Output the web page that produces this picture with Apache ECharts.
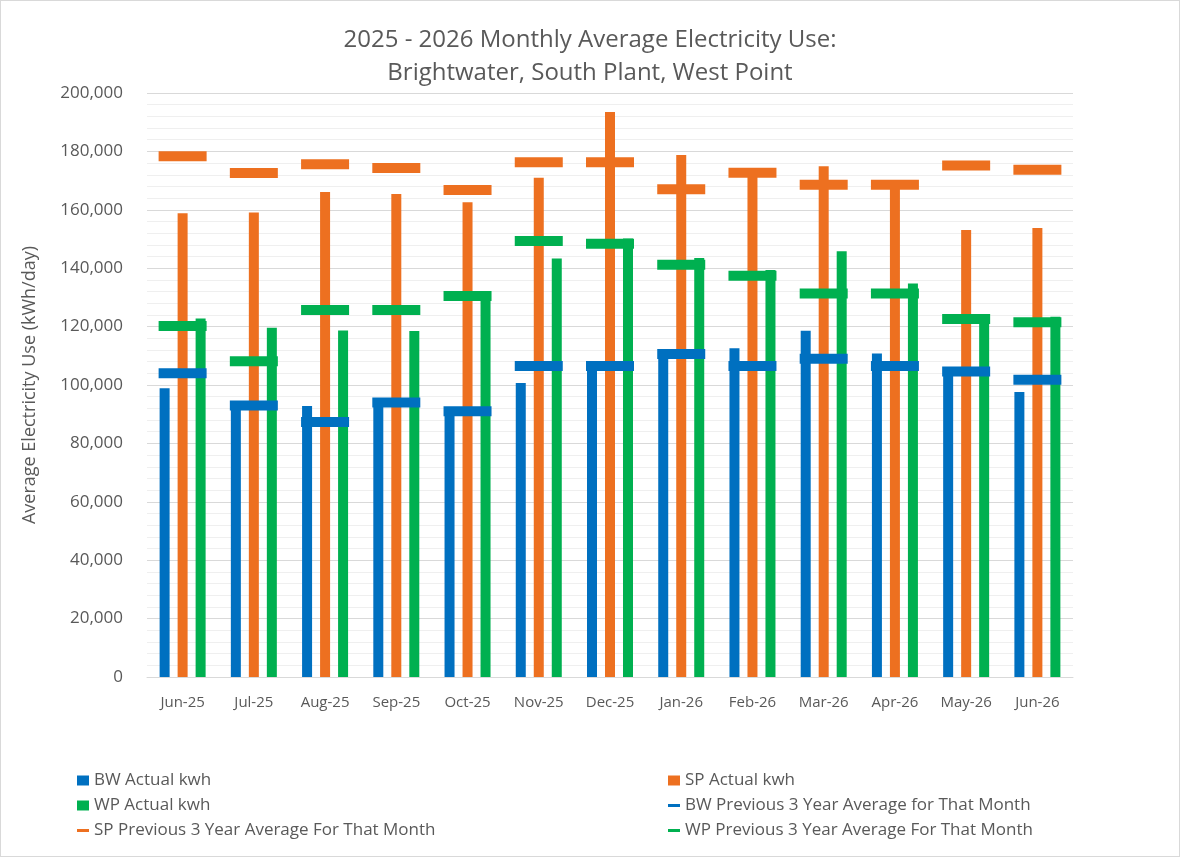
<!DOCTYPE html>
<html>
<head>
<meta charset="utf-8">
<script src="https://cdn.jsdelivr.net/npm/echarts@6/dist/echarts.min.js"></script>
<style>html,body{margin:0;background:#fff}#main{width:1178px;height:855px;border:1px solid #d9d9d9}</style>
</head>
<body>
<div id="main"></div>
<script>
var months = ['Jun-25','Jul-25','Aug-25','Sep-25','Oct-25','Nov-25','Dec-25','Jan-26','Feb-26','Mar-26','Apr-26','May-26','Jun-26'];
var bwActual = [98900,92500,92800,94500,91000,100700,107000,111000,112600,118600,110800,105000,97600];
var spActual = [158800,159100,166100,165400,162600,171000,193500,178800,173000,174900,168500,153100,153800];
var wpActual = [122800,119600,118700,118500,130500,143300,150200,143500,139400,145800,134800,122600,123400];
var bwAvg = [104000,93000,87300,94000,91000,106500,106500,110600,106500,109000,106500,104600,101800];
var spAvg = [178300,172600,175600,174300,166800,176300,176300,167000,172700,168600,168600,175200,173700];
var wpAvg = [120200,108100,125700,125700,130500,149300,148400,141200,137400,131300,131300,122600,121500];

var BLUE = '#0070C0', ORANGE = '#ED7020', GREEN = '#00B050';
var txt = '#595959';
var font = '"Open Sans", sans-serif';

var chart = echarts.init(document.getElementById('main'));
var dash = 'path://M0,4H12V7H0Z';

function avgSeries(name, data, color) {
  return {
    name: name, type: 'scatter', data: data,
    symbol: 'rect', symbolSize: [48, 10],
    itemStyle: { color: color, opacity: 1 }, z: 5
  };
}
function barSeries(name, data, color) {
  return {
    name: name, type: 'bar', data: data, barWidth: 10, barGap: '80%',
    itemStyle: { color: color }
  };
}

chart.setOption({
  animation: false,
  textStyle: { fontFamily: font },
  title: {
    text: '2025 - 2026 Monthly Average Electricity Use:\nBrightwater, South Plant, West Point',
    left: 'center', top: 18,
    textStyle: { fontSize: 24, fontWeight: 'normal', color: txt, lineHeight: 33, fontFamily: font }
  },
  legend: [{
    orient: 'vertical', left: 71, top: 766, itemGap: 8, itemWidth: 12, itemHeight: 10,
    textStyle: { fontSize: 17, color: txt },
    data: [{ name: 'BW Actual kwh', icon: 'rect' }, { name: 'WP Actual kwh', icon: 'rect' },
           { name: 'SP Previous 3 Year Average For That Month', icon: dash }]
  }, {
    orient: 'vertical', left: 662, top: 766, itemGap: 8, itemWidth: 12, itemHeight: 10,
    textStyle: { fontSize: 17, color: txt },
    data: [{ name: 'SP Actual kwh', icon: 'rect' },
           { name: 'BW Previous 3 Year Average for That Month', icon: dash },
           { name: 'WP Previous 3 Year Average For That Month', icon: dash }]
  }],
  grid: { left: 146, right: 106, top: 92, bottom: 179 },
  xAxis: {
    type: 'category', data: months,
    axisLine: { lineStyle: { color: '#d9d9d9' } },
    axisTick: { show: false },
    axisLabel: { fontSize: 15, color: txt, margin: 18 }
  },
  yAxis: {
    type: 'value', min: 0, max: 200000, interval: 20000,
    name: 'Average Electricity Use (kWh/day)', nameLocation: 'middle', nameGap: 108,
    nameTextStyle: { fontSize: 18, color: txt },
    axisLabel: { fontSize: 17, color: txt, margin: 24,
      formatter: function (v) { return v.toLocaleString('en-US'); } },
    splitLine: { lineStyle: { color: '#d9d9d9' } },
    minorTick: { show: false, splitNumber: 5 },
    minorSplitLine: { show: true, lineStyle: { color: '#efefef' } }
  },
  series: [
    barSeries('BW Actual kwh', bwActual, BLUE),
    barSeries('SP Actual kwh', spActual, ORANGE),
    barSeries('WP Actual kwh', wpActual, GREEN),
    avgSeries('BW Previous 3 Year Average for That Month', bwAvg, BLUE),
    avgSeries('SP Previous 3 Year Average For That Month', spAvg, ORANGE),
    avgSeries('WP Previous 3 Year Average For That Month', wpAvg, GREEN)
  ]
});
</script>
</body>
</html>
